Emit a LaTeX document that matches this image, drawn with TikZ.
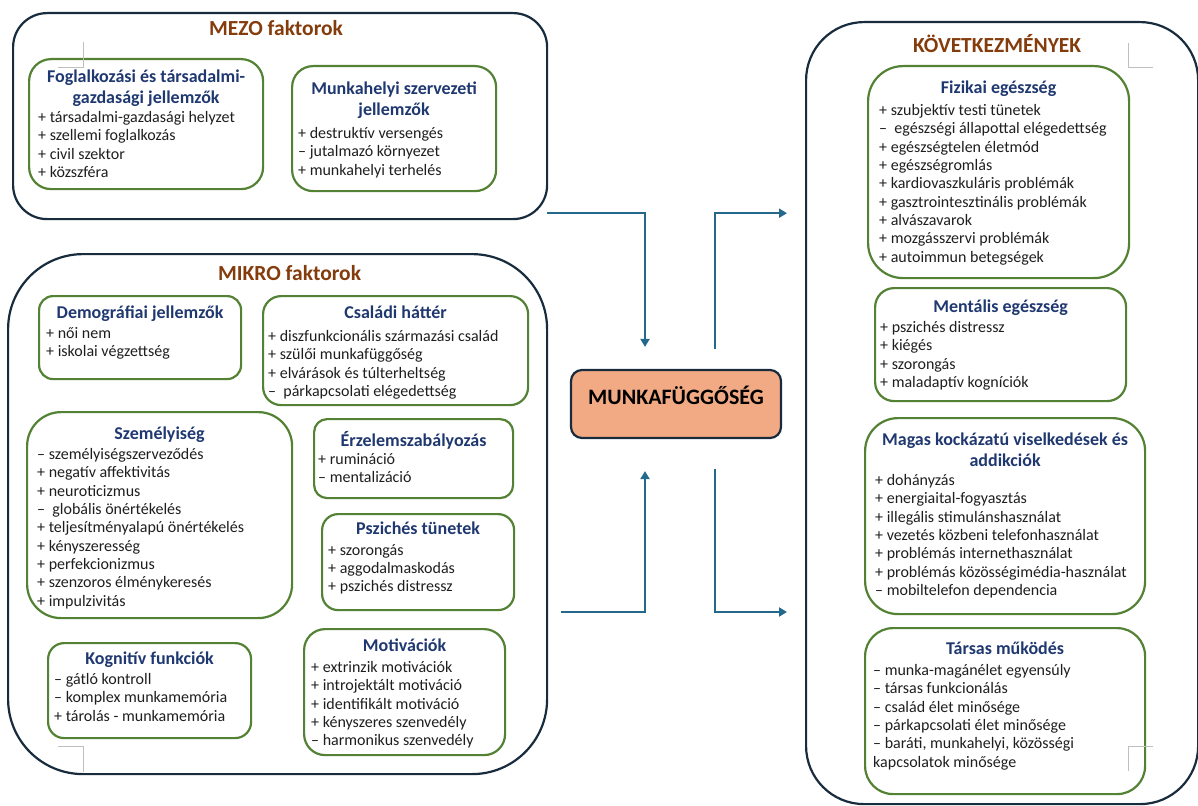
\documentclass[tikz,border=0pt]{standalone}
\usepackage{fontspec}
\setmainfont{Carlito}
\usetikzlibrary{positioning,arrows.meta,calc}
\definecolor{titlebrown}{RGB}{132,60,12}
\definecolor{headblue}{RGB}{31,56,112}
\definecolor{boxgreen}{RGB}{84,130,53}
\definecolor{framenavy}{RGB}{24,44,62}
\definecolor{arrowblue}{RGB}{36,104,140}
\definecolor{coreorange}{RGB}{242,170,132}
\definecolor{textgray}{RGB}{30,30,30}

\begin{document}
\begin{tikzpicture}[x=1pt,y=-1pt,>={Triangle[length=8pt,width=9pt]},
  outerbox/.style={draw=framenavy,line width=2.2pt,anchor=north west,inner sep=0pt},
  grbox/.style={draw=boxgreen,line width=2.2pt,anchor=north west,inner sep=0pt},
  ttl/.style={font=\fontsize{21.5}{25.8}\selectfont\bfseries,text=titlebrown,anchor=north,inner sep=0pt,execute at begin node=\strut},
  head/.style={font=\fontsize{18}{21}\selectfont\bfseries,text=headblue,align=center,anchor=north,inner sep=0pt,yshift=-1.5pt,execute at begin node=\strut},
  items/.style={font=\fontsize{16}{18.35}\selectfont,text=textgray,align=left,anchor=north west,inner sep=0pt,yshift=-3.5pt,execute at begin node=\strut},
  arr/.style={draw=arrowblue,line width=2.2pt},
  cropmark/.style={draw=black!25,line width=0.8pt}]
  \useasboundingbox (0,0) rectangle (1198,805);
  % MEZO
  \node[outerbox,minimum width=534pt,minimum height=206pt,rounded corners=34pt](mezo) at (12,12){};
  \node[ttl] (mezot) at ($(mezo.north)+(-4,5.5)$){MEZO faktorok};
  \node[grbox,minimum width=234pt,minimum height=130pt,rounded corners=22pt](fog) at (28,58){};
  \node[head] at ($(fog.north)+(0,10)$){Foglalkozási és társadalmi-\\gazdasági jellemzők};
  \node[items] at ($(fog.north west)+(10,49.5)$){+ társadalmi-gazdasági helyzet\\+ szellemi foglalkozás\\+ civil szektor\\+ közszféra};
  \node[grbox,minimum width=204pt,minimum height=125pt,rounded corners=21pt](mhsz) at (291,65){};
  \node[head] at ($(mhsz.north)+(0,15.5)$){Munkahelyi szervezeti\\jellemzők};
  \node[items] at ($(mhsz.north west)+(7,58.5)$){+ destruktív versengés\\– jutalmazó környezet\\+ munkahelyi terhelés};
  % MIKRO
  \node[outerbox,minimum width=539pt,minimum height=520pt,rounded corners=75pt](mikro) at (7,253){};
  \node[ttl] (mikrot) at ($(mikro.north)+(12,9.5)$){MIKRO faktorok};
  \node[grbox,minimum width=202pt,minimum height=83pt,rounded corners=14pt](demo) at (38,295){};
  \node[head] at ($(demo.north)+(0,7.3)$){Demográfiai jellemzők};
  \node[items] at ($(demo.north west)+(8,28.5)$){+ női nem\\+ iskolai végzettség};
  \node[grbox,minimum width=265pt,minimum height=109pt,rounded corners=18pt](csal) at (262,295){};
  \node[head] at ($(csal.north)+(0,7.3)$){Családi háttér};
  \node[items] at ($(csal.north west)+(6,31.5)$){+ diszfunkcionális származási család\\+ szülői munkafüggőség\\+ elvárások és túlterheltség\\–\ \ párkapcsolati elégedettség};
  \node[grbox,minimum width=265pt,minimum height=206pt,rounded corners=34pt](szem) at (26,411){};
  \node[head] at ($(szem.north)+(0,12.3)$){Személyiség};
  \node[items] at ($(szem.north west)+(11,33.5)$){– személyiségszerveződés\\+ negatív affektivitás\\+ neuroticizmus\\–\ \ globális önértékelés\\+ teljesítményalapú önértékelés\\+ kényszeresség\\+ perfekcionizmus\\+ szenzoros élménykeresés\\+ impulzivitás};
  \node[grbox,minimum width=199pt,minimum height=79pt,rounded corners=13pt](erz) at (313,418){};
  \node[head] at ($(erz.north)+(0,11.3)$){Érzelemszabályozás};
  \node[items] at ($(erz.north west)+(5,31.5)$){+ rumináció\\– mentalizáció};
  \node[grbox,minimum width=192pt,minimum height=96pt,rounded corners=16pt](psz) at (321,513){};
  \node[head] at ($(psz.north)+(0,5.3)$){Pszichés tünetek};
  \node[items] at ($(psz.north west)+(7,27.5)$){+ szorongás\\+ aggodalmaskodás\\+ pszichés distressz};
  \node[grbox,minimum width=203pt,minimum height=95pt,rounded corners=16pt](kogn) at (47,642){};
  \node[head] at ($(kogn.north)+(0,6.3)$){Kognitív funkciók};
  \node[items] at ($(kogn.north west)+(7,27.5)$){– gátló kontroll\\– komplex munkamemória\\+ tárolás - munkamemória};
  \node[grbox,minimum width=201pt,minimum height=126pt,rounded corners=21pt](mot) at (303,628){};
  \node[head] at ($(mot.north)+(0,7.3)$){Motivációk};
  \node[items] at ($(mot.north west)+(8,29.5)$){+ extrinzik motivációk\\+ introjektált motiváció\\+ identifikált motiváció\\+ kényszeres szenvedély\\– harmonikus szenvedély};
  % KOVETKEZMENYEK
  \node[outerbox,minimum width=392pt,minimum height=782pt,rounded corners=58pt](kov) at (805,21){};
  \node[ttl] (kovt) at ($(kov.north)+(-5,13.5)$){KÖVETKEZMÉNYEK};
  \node[grbox,minimum width=261pt,minimum height=212pt,rounded corners=35pt](fiz) at (867,65){};
  \node[head] at ($(fiz.north)+(0,12.3)$){Fizikai egészség};
  \node[items] at ($(fiz.north west)+(12,35.5)$){+ szubjektív testi tünetek\\–\ \ egészségi állapottal elégedettség\\+ egészségtelen életmód\\+ egészségromlás\\+ kardiovaszkuláris problémák\\+ gasztrointesztinális problémák\\+ alvászavarok\\+ mozgásszervi problémák\\+ autoimmun betegségek};
  \node[grbox,minimum width=251pt,minimum height=113pt,rounded corners=19pt](ment) at (874,287){};
  \node[head] at ($(ment.north)+(0,9.3)$){Mentális egészség};
  \node[items] at ($(ment.north west)+(6,30.5)$){+ pszichés distressz\\+ kiégés\\+ szorongás\\+ maladaptív kogníciók};
  \node[grbox,minimum width=280pt,minimum height=196pt,rounded corners=33pt](mag) at (864,417){};
  \node[head] at ($(mag.north)+(0,14.5)$){Magas kockázatú viselkedések és\\addikciók};
  \node[items] at ($(mag.north west)+(11,53.5)$){+ dohányzás\\+ energiaital-fogyasztás\\+ illegális stimulánshasználat\\+ vezetés közbeni telefonhasználat\\+ problémás internethasználat\\+ problémás közösségimédia-használat\\– mobiltelefon dependencia};
  \node[grbox,minimum width=280pt,minimum height=166pt,rounded corners=28pt](tar) at (864,627){};
  \node[head] at ($(tar.north)+(0,11.3)$){Társas működés};
  \node[items] at ($(tar.north west)+(9,33.5)$){– munka-magánélet egyensúly\\– társas funkcionálás\\– család élet minősége\\– párkapcsolati élet minősége\\– baráti, munkahelyi, közösségi\\kapcsolatok minősége};
  % center
  \node[draw=framenavy,fill=coreorange,line width=2.2pt,rounded corners=11pt,minimum width=210pt,minimum height=68pt,
    inner sep=0pt,text height=15pt,text depth=15pt,font=\fontsize{22}{26}\selectfont\bfseries](mf) at (676,404){MUNKAFÜGGŐSÉG};
  % arrows
  \coordinate(m1) at ($(mezo.south east)+(-1,-7)$);
  \coordinate(t1) at ($(mf.north)+(-31,-22)$);
  \coordinate(s2) at ($(mf.north)+(39,-20)$);
  \coordinate(k2) at ($(kov.west |- m1)+(-18,0)$);
  \coordinate(m3) at (561,612);
  \coordinate(t3) at ($(mf.south)+(-31,32)$);
  \coordinate(s4) at ($(mf.south)+(39,30)$);
  \coordinate(k4) at ($(kov.west |- m3)+(-18,0)$);
  \draw[arr,->](m1)-|(t1); \draw[arr,->](s2)|-(k2);
  \draw[arr,->](m3)-|(t3); \draw[arr,->](s4)|-(k4);
  % crop marks
  \draw[cropmark](58,67)--(83,67)--(83,42); \draw[cropmark](1128,43)--(1128,67)--(1153,67);
  \draw[cropmark](1153,746)--(1128,746)--(1128,771); \draw[cropmark](58,746)--(83,746)--(83,772);
\end{tikzpicture}
\end{document}
